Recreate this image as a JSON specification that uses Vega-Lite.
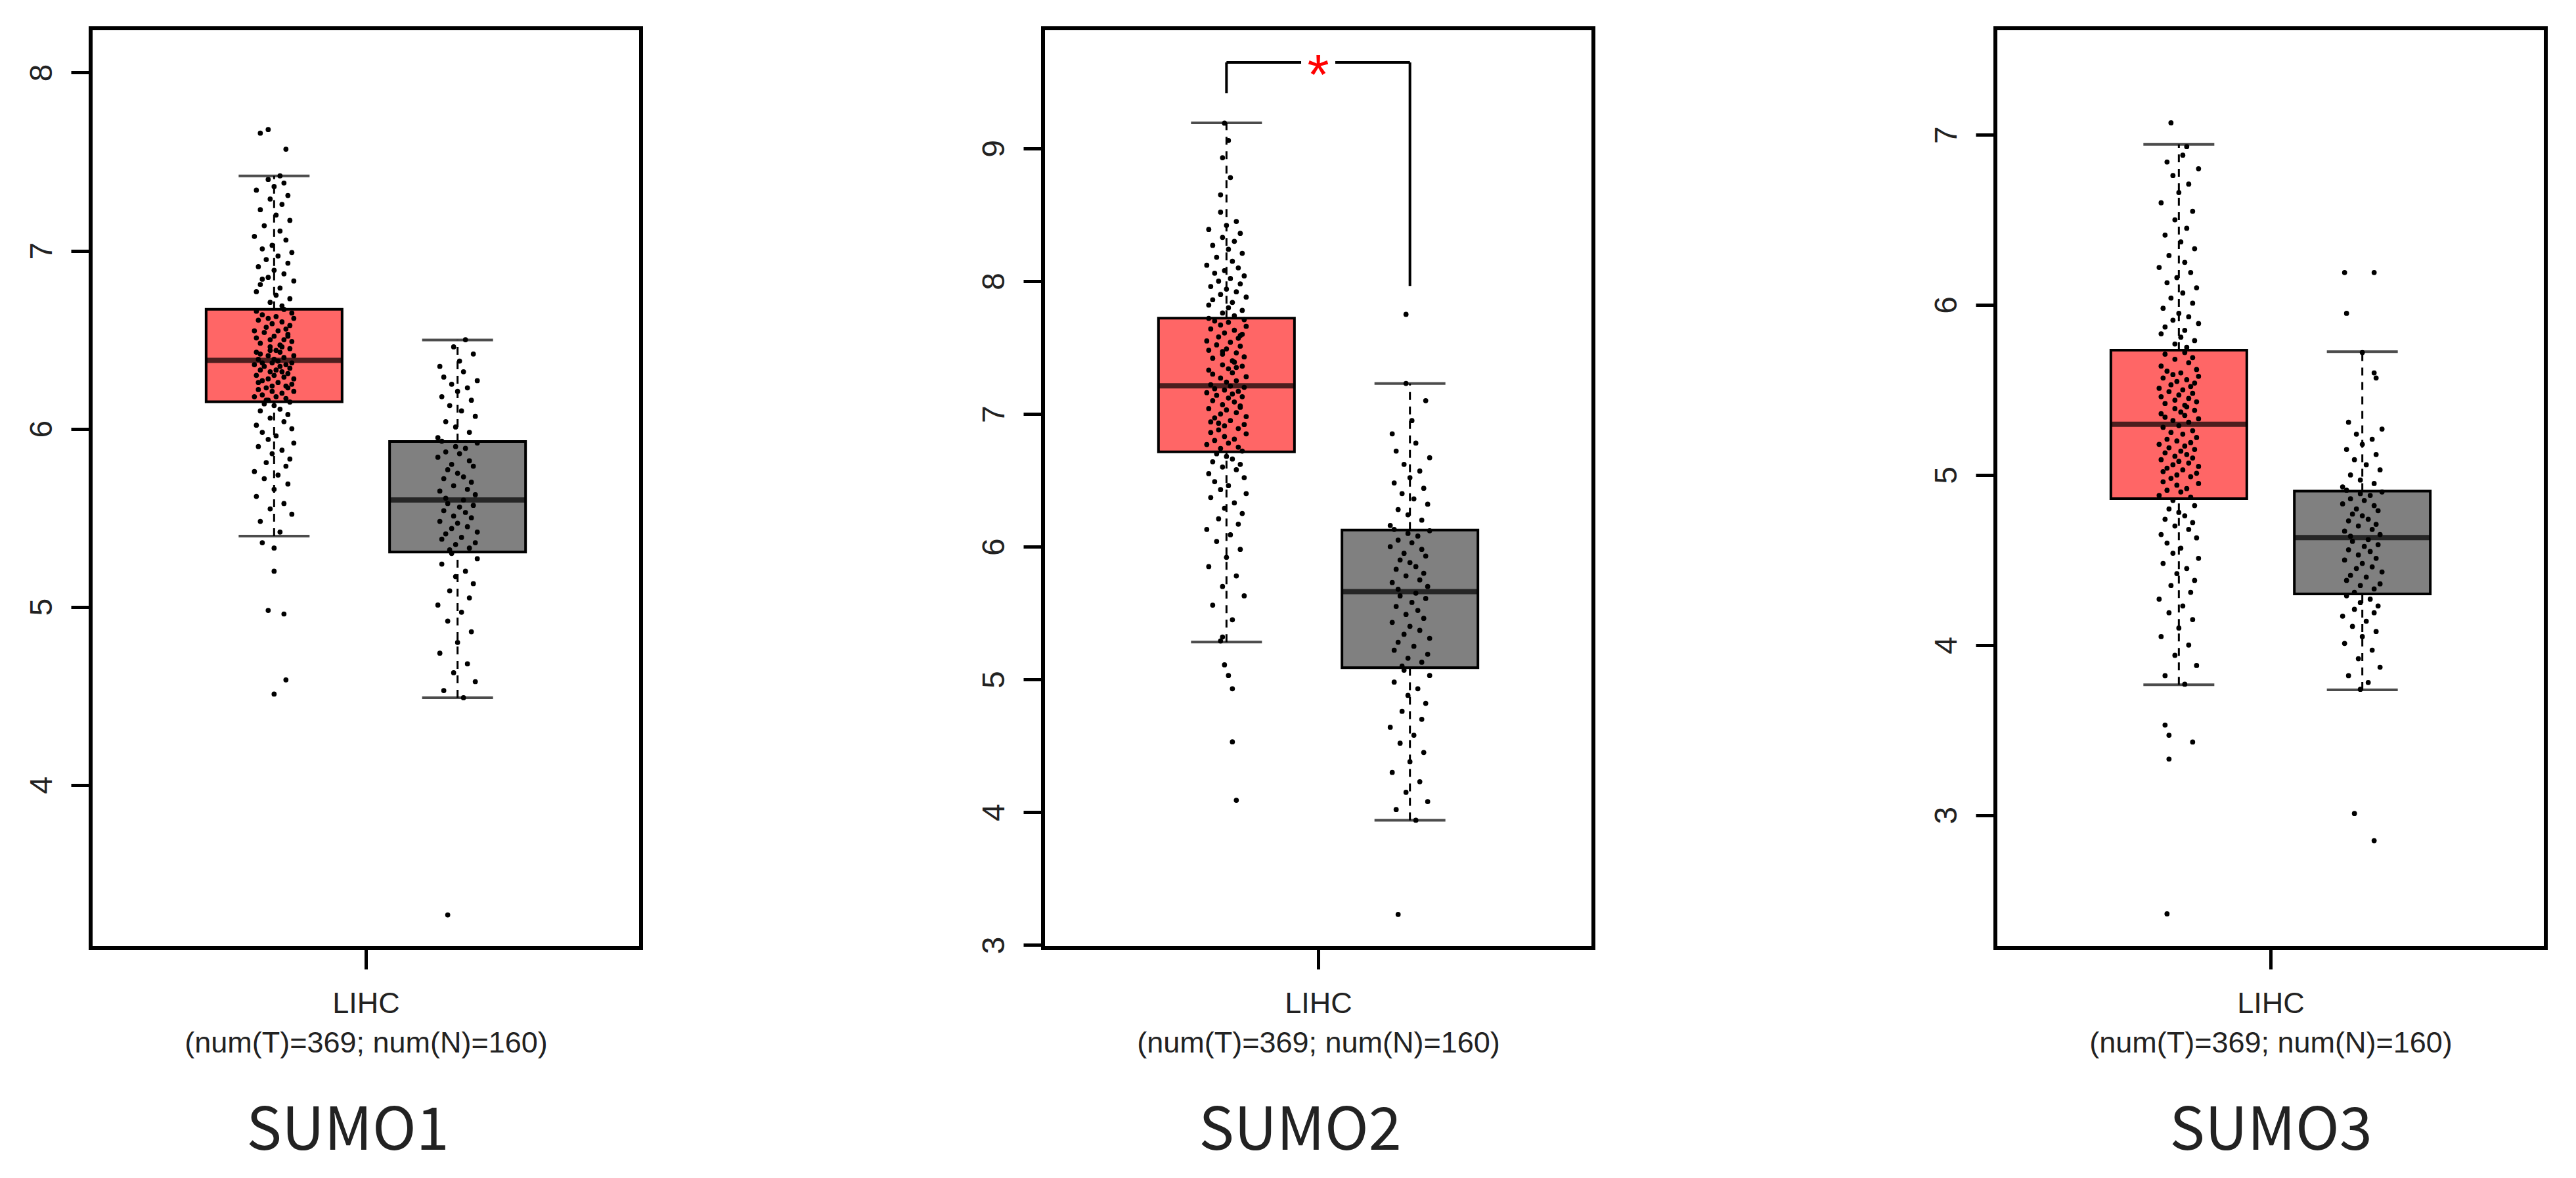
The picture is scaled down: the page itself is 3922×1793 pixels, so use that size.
{
"$schema":"https://vega.github.io/schema/vega-lite/v6.json",
"background":"white",
"padding":{"left":37,"top":40,"right":5,"bottom":5},
"bounds":"flush",
"spacing":612,
"datasets":{
"b1":[{"g":"T","lo":5.397,"q1":6.152,"med":6.384,"q3":6.671,"hi":7.42},{"g":"N","lo":4.49,"q1":5.308,"med":5.6,"q3":5.928,"hi":6.498}],
"b2":[{"g":"T","lo":5.282,"q1":6.714,"med":7.212,"q3":7.721,"hi":9.192},{"g":"N","lo":3.94,"q1":5.089,"med":5.661,"q3":6.125,"hi":7.229}],
"b3":[{"g":"T","lo":3.767,"q1":4.861,"med":5.298,"q3":5.734,"hi":6.943},{"g":"N","lo":3.737,"q1":4.301,"med":4.632,"q3":4.905,"hi":5.725}],
"br":[{"a":"T","b":"N","c":"LIHC","lo":9.415,"lo2":7.964,"top":9.648}],
"p1":[{"g":"T","v":4.51,"j":0},{"g":"T","v":4.59,"j":6},{"g":"T","v":4.96,"j":5},{"g":"T","v":4.98,"j":-3},{"g":"T","v":5.2,"j":0},{"g":"T","v":5.33,"j":0},{"g":"T","v":5.36,"j":-6},{"g":"T","v":5.42,"j":3},{"g":"T","v":5.48,"j":-7},{"g":"T","v":5.52,"j":9},{"g":"T","v":5.55,"j":-2},{"g":"T","v":5.58,"j":5},{"g":"T","v":5.62,"j":-9},{"g":"T","v":5.66,"j":0},{"g":"T","v":5.69,"j":7},{"g":"T","v":5.72,"j":-5},{"g":"T","v":5.74,"j":2},{"g":"T","v":5.76,"j":-10},{"g":"T","v":5.79,"j":6},{"g":"T","v":5.81,"j":-4},{"g":"T","v":5.83,"j":8},{"g":"T","v":5.86,"j":-1},{"g":"T","v":5.88,"j":4},{"g":"T","v":5.9,"j":-8},{"g":"T","v":5.92,"j":10},{"g":"T","v":5.94,"j":-3},{"g":"T","v":5.96,"j":1},{"g":"T","v":5.98,"j":-6},{"g":"T","v":6.0,"j":9},{"g":"T","v":6.02,"j":-9},{"g":"T","v":6.04,"j":5},{"g":"T","v":6.06,"j":-2},{"g":"T","v":6.08,"j":7},{"g":"T","v":6.1,"j":-7},{"g":"T","v":6.11,"j":3},{"g":"T","v":6.13,"j":0},{"g":"T","v":6.14,"j":-5},{"g":"T","v":6.15,"j":8},{"g":"T","v":6.16,"j":-3},{"g":"T","v":6.17,"j":6},{"g":"T","v":6.18,"j":-10},{"g":"T","v":6.18,"j":1},{"g":"T","v":6.19,"j":-6},{"g":"T","v":6.2,"j":4},{"g":"T","v":6.21,"j":-1},{"g":"T","v":6.21,"j":10},{"g":"T","v":6.22,"j":-8},{"g":"T","v":6.23,"j":-4},{"g":"T","v":6.24,"j":6},{"g":"T","v":6.24,"j":-1},{"g":"T","v":6.25,"j":9},{"g":"T","v":6.26,"j":-8},{"g":"T","v":6.26,"j":2},{"g":"T","v":6.27,"j":-6},{"g":"T","v":6.28,"j":10},{"g":"T","v":6.28,"j":-3},{"g":"T","v":6.29,"j":5},{"g":"T","v":6.3,"j":0},{"g":"T","v":6.3,"j":-9},{"g":"T","v":6.31,"j":7},{"g":"T","v":6.32,"j":-2},{"g":"T","v":6.32,"j":4},{"g":"T","v":6.33,"j":-7},{"g":"T","v":6.33,"j":1},{"g":"T","v":6.34,"j":8},{"g":"T","v":6.35,"j":-5},{"g":"T","v":6.35,"j":3},{"g":"T","v":6.36,"j":-10},{"g":"T","v":6.36,"j":6},{"g":"T","v":6.37,"j":-1},{"g":"T","v":6.37,"j":-6},{"g":"T","v":6.37,"j":9},{"g":"T","v":6.38,"j":2},{"g":"T","v":6.16,"j":-4},{"g":"T","v":6.23,"j":7},{"g":"T","v":6.39,"j":-8},{"g":"T","v":6.39,"j":0},{"g":"T","v":6.4,"j":5},{"g":"T","v":6.41,"j":-3},{"g":"T","v":6.41,"j":10},{"g":"T","v":6.42,"j":-7},{"g":"T","v":6.43,"j":3},{"g":"T","v":6.43,"j":-9},{"g":"T","v":6.44,"j":1},{"g":"T","v":6.45,"j":8},{"g":"T","v":6.46,"j":-2},{"g":"T","v":6.46,"j":4},{"g":"T","v":6.47,"j":3},{"g":"T","v":6.48,"j":-7},{"g":"T","v":6.49,"j":9},{"g":"T","v":6.5,"j":-2},{"g":"T","v":6.5,"j":5},{"g":"T","v":6.51,"j":-9},{"g":"T","v":6.52,"j":0},{"g":"T","v":6.53,"j":7},{"g":"T","v":6.54,"j":-5},{"g":"T","v":6.55,"j":2},{"g":"T","v":6.55,"j":-10},{"g":"T","v":6.56,"j":6},{"g":"T","v":6.57,"j":-4},{"g":"T","v":6.58,"j":8},{"g":"T","v":6.59,"j":-1},{"g":"T","v":6.6,"j":4},{"g":"T","v":6.61,"j":-8},{"g":"T","v":6.62,"j":10},{"g":"T","v":6.62,"j":-3},{"g":"T","v":6.63,"j":1},{"g":"T","v":6.64,"j":-6},{"g":"T","v":6.65,"j":9},{"g":"T","v":6.66,"j":-9},{"g":"T","v":6.67,"j":5},{"g":"T","v":6.44,"j":-2},{"g":"T","v":6.52,"j":7},{"g":"T","v":6.69,"j":4},{"g":"T","v":6.71,"j":-2},{"g":"T","v":6.73,"j":8},{"g":"T","v":6.75,"j":1},{"g":"T","v":6.77,"j":-9},{"g":"T","v":6.79,"j":3},{"g":"T","v":6.81,"j":-7},{"g":"T","v":6.83,"j":10},{"g":"T","v":6.85,"j":-3},{"g":"T","v":6.87,"j":5},{"g":"T","v":6.89,"j":0},{"g":"T","v":6.91,"j":-8},{"g":"T","v":6.93,"j":7},{"g":"T","v":6.95,"j":-4},{"g":"T","v":6.97,"j":2},{"g":"T","v":6.99,"j":9},{"g":"T","v":7.01,"j":-6},{"g":"T","v":7.03,"j":-1},{"g":"T","v":7.06,"j":6},{"g":"T","v":7.08,"j":-10},{"g":"T","v":7.11,"j":3},{"g":"T","v":7.14,"j":-5},{"g":"T","v":7.17,"j":8},{"g":"T","v":7.2,"j":1},{"g":"T","v":7.23,"j":-7},{"g":"T","v":7.26,"j":4},{"g":"T","v":7.29,"j":-2},{"g":"T","v":7.31,"j":7},{"g":"T","v":7.34,"j":-9},{"g":"T","v":7.36,"j":0},{"g":"T","v":7.38,"j":5},{"g":"T","v":7.4,"j":-3},{"g":"T","v":7.42,"j":3},{"g":"T","v":6.84,"j":-6},{"g":"T","v":7.57,"j":6},{"g":"T","v":7.66,"j":-7},{"g":"T","v":7.68,"j":-3},
{"g":"N","v":3.27,"j":-5},{"g":"N","v":4.49,"j":3},{"g":"N","v":4.53,"j":-7},{"g":"N","v":4.58,"j":9},{"g":"N","v":4.63,"j":-2},{"g":"N","v":4.68,"j":5},{"g":"N","v":4.74,"j":-9},{"g":"N","v":4.8,"j":0},{"g":"N","v":4.86,"j":7},{"g":"N","v":4.92,"j":-5},{"g":"N","v":4.97,"j":2},{"g":"N","v":5.01,"j":-10},{"g":"N","v":5.05,"j":6},{"g":"N","v":5.09,"j":-4},{"g":"N","v":5.13,"j":8},{"g":"N","v":5.17,"j":-1},{"g":"N","v":5.2,"j":4},{"g":"N","v":5.24,"j":-8},{"g":"N","v":5.27,"j":10},{"g":"N","v":5.3,"j":-3},{"g":"N","v":5.32,"j":-4},{"g":"N","v":5.33,"j":6},{"g":"N","v":5.35,"j":-1},{"g":"N","v":5.36,"j":9},{"g":"N","v":5.38,"j":-8},{"g":"N","v":5.39,"j":2},{"g":"N","v":5.41,"j":-6},{"g":"N","v":5.42,"j":10},{"g":"N","v":5.44,"j":-3},{"g":"N","v":5.45,"j":5},{"g":"N","v":5.47,"j":0},{"g":"N","v":5.48,"j":-9},{"g":"N","v":5.5,"j":7},{"g":"N","v":5.51,"j":-2},{"g":"N","v":5.53,"j":4},{"g":"N","v":5.54,"j":-7},{"g":"N","v":5.56,"j":1},{"g":"N","v":5.57,"j":8},{"g":"N","v":5.58,"j":-5},{"g":"N","v":5.6,"j":3},{"g":"N","v":5.61,"j":-6},{"g":"N","v":5.63,"j":9},{"g":"N","v":5.65,"j":-9},{"g":"N","v":5.66,"j":5},{"g":"N","v":5.68,"j":-2},{"g":"N","v":5.7,"j":7},{"g":"N","v":5.72,"j":-7},{"g":"N","v":5.73,"j":3},{"g":"N","v":5.75,"j":0},{"g":"N","v":5.77,"j":-5},{"g":"N","v":5.79,"j":8},{"g":"N","v":5.8,"j":-3},{"g":"N","v":5.82,"j":6},{"g":"N","v":5.84,"j":-10},{"g":"N","v":5.86,"j":1},{"g":"N","v":5.87,"j":-6},{"g":"N","v":5.89,"j":4},{"g":"N","v":5.9,"j":-1},{"g":"N","v":5.92,"j":10},{"g":"N","v":5.93,"j":-8},{"g":"N","v":5.95,"j":-10},{"g":"N","v":5.98,"j":6},{"g":"N","v":6.01,"j":-1},{"g":"N","v":6.04,"j":-6},{"g":"N","v":6.07,"j":9},{"g":"N","v":6.1,"j":2},{"g":"N","v":6.13,"j":-4},{"g":"N","v":6.16,"j":7},{"g":"N","v":6.18,"j":-8},{"g":"N","v":6.21,"j":0},{"g":"N","v":6.23,"j":5},{"g":"N","v":6.25,"j":-3},{"g":"N","v":6.27,"j":10},{"g":"N","v":6.29,"j":-7},{"g":"N","v":6.32,"j":3},{"g":"N","v":6.35,"j":-9},{"g":"N","v":6.38,"j":1},{"g":"N","v":6.42,"j":8},{"g":"N","v":6.46,"j":-2},{"g":"N","v":6.5,"j":4}],
"p2":[{"g":"T","v":4.09,"j":5},{"g":"T","v":4.53,"j":3},{"g":"T","v":4.93,"j":3},{"g":"T","v":5.03,"j":1},{"g":"T","v":5.11,"j":-1},{"g":"T","v":5.29,"j":-3},{"g":"T","v":5.32,"j":-2},{"g":"T","v":5.45,"j":3},{"g":"T","v":5.56,"j":-7},{"g":"T","v":5.63,"j":9},{"g":"T","v":5.7,"j":-2},{"g":"T","v":5.78,"j":5},{"g":"T","v":5.85,"j":-9},{"g":"T","v":5.92,"j":0},{"g":"T","v":5.98,"j":7},{"g":"T","v":6.04,"j":-5},{"g":"T","v":6.09,"j":2},{"g":"T","v":6.13,"j":-10},{"g":"T","v":6.17,"j":6},{"g":"T","v":6.21,"j":-4},{"g":"T","v":6.25,"j":8},{"g":"T","v":6.29,"j":-1},{"g":"T","v":6.33,"j":4},{"g":"T","v":6.37,"j":-8},{"g":"T","v":6.4,"j":10},{"g":"T","v":6.43,"j":-3},{"g":"T","v":6.46,"j":1},{"g":"T","v":6.49,"j":-6},{"g":"T","v":6.52,"j":9},{"g":"T","v":6.55,"j":-9},{"g":"T","v":6.58,"j":5},{"g":"T","v":6.6,"j":-2},{"g":"T","v":6.62,"j":7},{"g":"T","v":6.64,"j":-7},{"g":"T","v":6.66,"j":3},{"g":"T","v":6.68,"j":0},{"g":"T","v":6.7,"j":-5},{"g":"T","v":6.72,"j":8},{"g":"T","v":6.74,"j":-3},{"g":"T","v":6.75,"j":6},{"g":"T","v":6.77,"j":-10},{"g":"T","v":6.78,"j":1},{"g":"T","v":6.8,"j":-6},{"g":"T","v":6.81,"j":4},{"g":"T","v":6.83,"j":-1},{"g":"T","v":6.85,"j":10},{"g":"T","v":6.86,"j":-8},{"g":"T","v":6.88,"j":-4},{"g":"T","v":6.89,"j":6},{"g":"T","v":6.91,"j":-1},{"g":"T","v":6.92,"j":9},{"g":"T","v":6.94,"j":-8},{"g":"T","v":6.95,"j":2},{"g":"T","v":6.97,"j":-6},{"g":"T","v":6.98,"j":10},{"g":"T","v":7.0,"j":-3},{"g":"T","v":7.01,"j":5},{"g":"T","v":7.03,"j":0},{"g":"T","v":7.04,"j":-9},{"g":"T","v":7.06,"j":7},{"g":"T","v":7.07,"j":-2},{"g":"T","v":7.09,"j":4},{"g":"T","v":7.1,"j":-7},{"g":"T","v":7.12,"j":1},{"g":"T","v":7.13,"j":8},{"g":"T","v":7.14,"j":-5},{"g":"T","v":7.15,"j":3},{"g":"T","v":7.16,"j":-10},{"g":"T","v":7.17,"j":6},{"g":"T","v":7.18,"j":-1},{"g":"T","v":7.19,"j":-6},{"g":"T","v":7.2,"j":9},{"g":"T","v":7.21,"j":2},{"g":"T","v":6.93,"j":-4},{"g":"T","v":7.05,"j":7},{"g":"T","v":7.22,"j":-8},{"g":"T","v":7.24,"j":0},{"g":"T","v":7.25,"j":5},{"g":"T","v":7.27,"j":-3},{"g":"T","v":7.28,"j":10},{"g":"T","v":7.3,"j":-7},{"g":"T","v":7.31,"j":3},{"g":"T","v":7.33,"j":-9},{"g":"T","v":7.34,"j":1},{"g":"T","v":7.36,"j":8},{"g":"T","v":7.37,"j":-2},{"g":"T","v":7.39,"j":4},{"g":"T","v":7.4,"j":3},{"g":"T","v":7.42,"j":-7},{"g":"T","v":7.43,"j":9},{"g":"T","v":7.45,"j":-2},{"g":"T","v":7.46,"j":5},{"g":"T","v":7.48,"j":-9},{"g":"T","v":7.49,"j":0},{"g":"T","v":7.51,"j":7},{"g":"T","v":7.52,"j":-5},{"g":"T","v":7.54,"j":2},{"g":"T","v":7.55,"j":-10},{"g":"T","v":7.57,"j":6},{"g":"T","v":7.58,"j":-4},{"g":"T","v":7.6,"j":8},{"g":"T","v":7.61,"j":-1},{"g":"T","v":7.63,"j":4},{"g":"T","v":7.64,"j":-8},{"g":"T","v":7.66,"j":10},{"g":"T","v":7.67,"j":-3},{"g":"T","v":7.69,"j":1},{"g":"T","v":7.7,"j":-6},{"g":"T","v":7.71,"j":9},{"g":"T","v":7.72,"j":-9},{"g":"T","v":7.35,"j":5},{"g":"T","v":7.47,"j":-2},{"g":"T","v":7.59,"j":7},{"g":"T","v":7.74,"j":4},{"g":"T","v":7.76,"j":-2},{"g":"T","v":7.78,"j":8},{"g":"T","v":7.8,"j":1},{"g":"T","v":7.82,"j":-9},{"g":"T","v":7.84,"j":3},{"g":"T","v":7.86,"j":-7},{"g":"T","v":7.88,"j":10},{"g":"T","v":7.9,"j":-3},{"g":"T","v":7.92,"j":5},{"g":"T","v":7.94,"j":0},{"g":"T","v":7.96,"j":-8},{"g":"T","v":7.98,"j":7},{"g":"T","v":8.0,"j":-4},{"g":"T","v":8.02,"j":2},{"g":"T","v":8.04,"j":9},{"g":"T","v":8.06,"j":-6},{"g":"T","v":8.08,"j":-1},{"g":"T","v":8.1,"j":6},{"g":"T","v":8.12,"j":-10},{"g":"T","v":8.15,"j":3},{"g":"T","v":8.18,"j":-5},{"g":"T","v":8.21,"j":8},{"g":"T","v":8.24,"j":1},{"g":"T","v":8.27,"j":-7},{"g":"T","v":8.3,"j":4},{"g":"T","v":8.33,"j":-2},{"g":"T","v":8.36,"j":7},{"g":"T","v":8.39,"j":-9},{"g":"T","v":8.42,"j":0},{"g":"T","v":8.45,"j":5},{"g":"T","v":8.52,"j":-3},{"g":"T","v":8.65,"j":-3},{"g":"T","v":8.78,"j":2},{"g":"T","v":8.93,"j":-2},{"g":"T","v":9.06,"j":1},{"g":"T","v":9.19,"j":-1},
{"g":"N","v":3.23,"j":-6},{"g":"N","v":3.94,"j":3},{"g":"N","v":4.02,"j":-7},{"g":"N","v":4.08,"j":9},{"g":"N","v":4.15,"j":-2},{"g":"N","v":4.23,"j":5},{"g":"N","v":4.3,"j":-9},{"g":"N","v":4.38,"j":0},{"g":"N","v":4.45,"j":7},{"g":"N","v":4.52,"j":-5},{"g":"N","v":4.58,"j":2},{"g":"N","v":4.64,"j":-10},{"g":"N","v":4.7,"j":6},{"g":"N","v":4.76,"j":-4},{"g":"N","v":4.82,"j":8},{"g":"N","v":4.88,"j":-1},{"g":"N","v":4.93,"j":4},{"g":"N","v":4.98,"j":-8},{"g":"N","v":5.03,"j":10},{"g":"N","v":5.07,"j":-3},{"g":"N","v":5.1,"j":-4},{"g":"N","v":5.13,"j":6},{"g":"N","v":5.16,"j":-1},{"g":"N","v":5.19,"j":9},{"g":"N","v":5.22,"j":-8},{"g":"N","v":5.25,"j":2},{"g":"N","v":5.28,"j":-6},{"g":"N","v":5.31,"j":10},{"g":"N","v":5.34,"j":-3},{"g":"N","v":5.37,"j":5},{"g":"N","v":5.4,"j":0},{"g":"N","v":5.43,"j":-9},{"g":"N","v":5.46,"j":7},{"g":"N","v":5.49,"j":-2},{"g":"N","v":5.52,"j":4},{"g":"N","v":5.55,"j":-7},{"g":"N","v":5.58,"j":1},{"g":"N","v":5.61,"j":8},{"g":"N","v":5.63,"j":-5},{"g":"N","v":5.65,"j":3},{"g":"N","v":5.68,"j":-6},{"g":"N","v":5.7,"j":9},{"g":"N","v":5.73,"j":-9},{"g":"N","v":5.75,"j":5},{"g":"N","v":5.78,"j":-2},{"g":"N","v":5.8,"j":7},{"g":"N","v":5.83,"j":-7},{"g":"N","v":5.85,"j":3},{"g":"N","v":5.88,"j":0},{"g":"N","v":5.9,"j":-5},{"g":"N","v":5.93,"j":8},{"g":"N","v":5.95,"j":-3},{"g":"N","v":5.98,"j":6},{"g":"N","v":6.0,"j":-10},{"g":"N","v":6.03,"j":1},{"g":"N","v":6.05,"j":-6},{"g":"N","v":6.08,"j":4},{"g":"N","v":6.1,"j":-1},{"g":"N","v":6.12,"j":10},{"g":"N","v":6.13,"j":-8},{"g":"N","v":6.16,"j":-10},{"g":"N","v":6.2,"j":6},{"g":"N","v":6.24,"j":-1},{"g":"N","v":6.28,"j":-6},{"g":"N","v":6.32,"j":9},{"g":"N","v":6.36,"j":2},{"g":"N","v":6.4,"j":-4},{"g":"N","v":6.44,"j":7},{"g":"N","v":6.48,"j":-8},{"g":"N","v":6.52,"j":0},{"g":"N","v":6.57,"j":5},{"g":"N","v":6.62,"j":-3},{"g":"N","v":6.67,"j":10},{"g":"N","v":6.72,"j":-7},{"g":"N","v":6.78,"j":3},{"g":"N","v":6.85,"j":-9},{"g":"N","v":6.95,"j":1},{"g":"N","v":7.1,"j":8},{"g":"N","v":7.23,"j":-2},{"g":"N","v":7.75,"j":-2}],
"p3":[{"g":"T","v":2.42,"j":-6},{"g":"T","v":3.33,"j":-5},{"g":"T","v":3.43,"j":7},{"g":"T","v":3.47,"j":-5},{"g":"T","v":3.53,"j":-7},{"g":"T","v":3.77,"j":3},{"g":"T","v":3.82,"j":-7},{"g":"T","v":3.88,"j":9},{"g":"T","v":3.94,"j":-2},{"g":"T","v":4.0,"j":5},{"g":"T","v":4.05,"j":-9},{"g":"T","v":4.1,"j":0},{"g":"T","v":4.15,"j":7},{"g":"T","v":4.19,"j":-5},{"g":"T","v":4.23,"j":2},{"g":"T","v":4.27,"j":-10},{"g":"T","v":4.31,"j":6},{"g":"T","v":4.35,"j":-4},{"g":"T","v":4.38,"j":8},{"g":"T","v":4.42,"j":-1},{"g":"T","v":4.45,"j":4},{"g":"T","v":4.48,"j":-8},{"g":"T","v":4.51,"j":10},{"g":"T","v":4.54,"j":-3},{"g":"T","v":4.57,"j":1},{"g":"T","v":4.6,"j":-6},{"g":"T","v":4.63,"j":9},{"g":"T","v":4.65,"j":-9},{"g":"T","v":4.68,"j":5},{"g":"T","v":4.7,"j":-2},{"g":"T","v":4.72,"j":7},{"g":"T","v":4.74,"j":-7},{"g":"T","v":4.76,"j":3},{"g":"T","v":4.78,"j":0},{"g":"T","v":4.8,"j":-5},{"g":"T","v":4.82,"j":8},{"g":"T","v":4.85,"j":-3},{"g":"T","v":4.87,"j":6},{"g":"T","v":4.88,"j":-10},{"g":"T","v":4.9,"j":1},{"g":"T","v":4.91,"j":-6},{"g":"T","v":4.92,"j":4},{"g":"T","v":4.94,"j":-1},{"g":"T","v":4.95,"j":10},{"g":"T","v":4.96,"j":-8},{"g":"T","v":4.98,"j":-4},{"g":"T","v":4.99,"j":6},{"g":"T","v":5.0,"j":-1},{"g":"T","v":5.01,"j":9},{"g":"T","v":5.02,"j":-8},{"g":"T","v":5.03,"j":2},{"g":"T","v":5.04,"j":-6},{"g":"T","v":5.05,"j":10},{"g":"T","v":5.06,"j":-3},{"g":"T","v":5.07,"j":5},{"g":"T","v":5.08,"j":0},{"g":"T","v":5.09,"j":-9},{"g":"T","v":5.1,"j":7},{"g":"T","v":5.11,"j":-2},{"g":"T","v":5.12,"j":4},{"g":"T","v":5.13,"j":-7},{"g":"T","v":5.14,"j":1},{"g":"T","v":5.15,"j":8},{"g":"T","v":5.16,"j":-5},{"g":"T","v":5.17,"j":3},{"g":"T","v":5.18,"j":-10},{"g":"T","v":5.19,"j":6},{"g":"T","v":5.2,"j":-1},{"g":"T","v":5.21,"j":-6},{"g":"T","v":5.22,"j":9},{"g":"T","v":5.24,"j":2},{"g":"T","v":5.25,"j":-4},{"g":"T","v":5.26,"j":7},{"g":"T","v":5.28,"j":-8},{"g":"T","v":5.29,"j":0},{"g":"T","v":5.31,"j":5},{"g":"T","v":5.32,"j":-3},{"g":"T","v":5.33,"j":10},{"g":"T","v":5.34,"j":-7},{"g":"T","v":5.35,"j":3},{"g":"T","v":5.36,"j":-9},{"g":"T","v":5.37,"j":1},{"g":"T","v":5.38,"j":8},{"g":"T","v":5.39,"j":-2},{"g":"T","v":5.4,"j":4},{"g":"T","v":5.41,"j":3},{"g":"T","v":5.42,"j":-7},{"g":"T","v":5.43,"j":9},{"g":"T","v":5.44,"j":-2},{"g":"T","v":5.45,"j":5},{"g":"T","v":5.46,"j":-9},{"g":"T","v":5.47,"j":0},{"g":"T","v":5.48,"j":7},{"g":"T","v":5.49,"j":-5},{"g":"T","v":5.5,"j":2},{"g":"T","v":5.51,"j":-10},{"g":"T","v":5.52,"j":6},{"g":"T","v":5.53,"j":-4},{"g":"T","v":5.54,"j":8},{"g":"T","v":5.55,"j":-1},{"g":"T","v":5.56,"j":4},{"g":"T","v":5.57,"j":-8},{"g":"T","v":5.58,"j":10},{"g":"T","v":5.59,"j":-3},{"g":"T","v":5.6,"j":1},{"g":"T","v":5.61,"j":-6},{"g":"T","v":5.62,"j":9},{"g":"T","v":5.64,"j":-9},{"g":"T","v":5.66,"j":5},{"g":"T","v":5.68,"j":-2},{"g":"T","v":5.69,"j":7},{"g":"T","v":5.71,"j":-7},{"g":"T","v":5.72,"j":3},{"g":"T","v":5.75,"j":4},{"g":"T","v":5.77,"j":-2},{"g":"T","v":5.79,"j":8},{"g":"T","v":5.81,"j":1},{"g":"T","v":5.83,"j":-9},{"g":"T","v":5.85,"j":3},{"g":"T","v":5.87,"j":-7},{"g":"T","v":5.89,"j":10},{"g":"T","v":5.91,"j":-3},{"g":"T","v":5.93,"j":5},{"g":"T","v":5.95,"j":0},{"g":"T","v":5.98,"j":-8},{"g":"T","v":6.01,"j":7},{"g":"T","v":6.04,"j":-4},{"g":"T","v":6.07,"j":2},{"g":"T","v":6.1,"j":9},{"g":"T","v":6.13,"j":-6},{"g":"T","v":6.16,"j":-1},{"g":"T","v":6.19,"j":6},{"g":"T","v":6.22,"j":-10},{"g":"T","v":6.25,"j":3},{"g":"T","v":6.29,"j":-5},{"g":"T","v":6.33,"j":8},{"g":"T","v":6.37,"j":1},{"g":"T","v":6.41,"j":-7},{"g":"T","v":6.45,"j":4},{"g":"T","v":6.5,"j":-2},{"g":"T","v":6.55,"j":7},{"g":"T","v":6.6,"j":-9},{"g":"T","v":6.66,"j":0},{"g":"T","v":6.71,"j":5},{"g":"T","v":6.76,"j":-3},{"g":"T","v":6.8,"j":10},{"g":"T","v":6.84,"j":-6},{"g":"T","v":6.88,"j":2},{"g":"T","v":6.93,"j":4},{"g":"T","v":7.07,"j":-4},
{"g":"N","v":2.85,"j":6},{"g":"N","v":3.01,"j":-4},{"g":"N","v":3.74,"j":-1},{"g":"N","v":3.78,"j":3},{"g":"N","v":3.82,"j":-7},{"g":"N","v":3.87,"j":9},{"g":"N","v":3.92,"j":-2},{"g":"N","v":3.97,"j":5},{"g":"N","v":4.01,"j":-9},{"g":"N","v":4.05,"j":0},{"g":"N","v":4.08,"j":7},{"g":"N","v":4.11,"j":-5},{"g":"N","v":4.14,"j":2},{"g":"N","v":4.17,"j":-10},{"g":"N","v":4.19,"j":6},{"g":"N","v":4.21,"j":-4},{"g":"N","v":4.23,"j":8},{"g":"N","v":4.25,"j":-1},{"g":"N","v":4.27,"j":4},{"g":"N","v":4.29,"j":-8},{"g":"N","v":4.31,"j":-4},{"g":"N","v":4.33,"j":6},{"g":"N","v":4.35,"j":-1},{"g":"N","v":4.36,"j":9},{"g":"N","v":4.38,"j":-8},{"g":"N","v":4.4,"j":2},{"g":"N","v":4.41,"j":-6},{"g":"N","v":4.43,"j":10},{"g":"N","v":4.45,"j":-3},{"g":"N","v":4.46,"j":5},{"g":"N","v":4.48,"j":0},{"g":"N","v":4.5,"j":-9},{"g":"N","v":4.51,"j":7},{"g":"N","v":4.53,"j":-2},{"g":"N","v":4.55,"j":4},{"g":"N","v":4.56,"j":-7},{"g":"N","v":4.58,"j":1},{"g":"N","v":4.59,"j":8},{"g":"N","v":4.61,"j":-5},{"g":"N","v":4.62,"j":3},{"g":"N","v":4.64,"j":-6},{"g":"N","v":4.65,"j":9},{"g":"N","v":4.67,"j":-9},{"g":"N","v":4.68,"j":5},{"g":"N","v":4.7,"j":-2},{"g":"N","v":4.71,"j":7},{"g":"N","v":4.73,"j":-7},{"g":"N","v":4.74,"j":3},{"g":"N","v":4.76,"j":0},{"g":"N","v":4.77,"j":-5},{"g":"N","v":4.79,"j":8},{"g":"N","v":4.8,"j":-3},{"g":"N","v":4.82,"j":6},{"g":"N","v":4.83,"j":-10},{"g":"N","v":4.85,"j":1},{"g":"N","v":4.86,"j":-6},{"g":"N","v":4.88,"j":4},{"g":"N","v":4.89,"j":-1},{"g":"N","v":4.9,"j":10},{"g":"N","v":4.91,"j":-8},{"g":"N","v":4.93,"j":-10},{"g":"N","v":4.95,"j":6},{"g":"N","v":4.97,"j":-1},{"g":"N","v":5.0,"j":-6},{"g":"N","v":5.03,"j":9},{"g":"N","v":5.06,"j":2},{"g":"N","v":5.09,"j":-4},{"g":"N","v":5.12,"j":7},{"g":"N","v":5.15,"j":-8},{"g":"N","v":5.18,"j":0},{"g":"N","v":5.21,"j":5},{"g":"N","v":5.24,"j":-3},{"g":"N","v":5.27,"j":10},{"g":"N","v":5.31,"j":-7},{"g":"N","v":5.57,"j":7},{"g":"N","v":5.6,"j":6},{"g":"N","v":5.72,"j":0},{"g":"N","v":5.95,"j":-8},{"g":"N","v":6.19,"j":-9},{"g":"N","v":6.19,"j":6}]
},
"hconcat":[
{"width":838,"height":1400,"resolve":{"scale":{"x":"independent"}},
"layer":[
{"layer":[
{"data":{"name":"b1"},"mark":{"type":"rule","strokeDash":[12,10],"strokeWidth":3,"color":"black"},"encoding":{"x":{"field":"g","type":"nominal","scale":{"type":"point","domain":["T","N"],"padding":1.123},"axis":null},"y":{"field":"lo","type":"quantitative","scale":{"domain":[3.084,8.249],"nice":false,"zero":false},"axis":{"values":[4,5,6,7,8],"format":"d","title":null}},"y2":{"field":"q1"}}},
{"data":{"name":"b1"},"mark":{"type":"rule","strokeDash":[12,10],"strokeWidth":3,"color":"black"},"encoding":{"x":{"field":"g","type":"nominal"},"y":{"field":"q3","type":"quantitative"},"y2":{"field":"hi"}}},
{"data":{"name":"b1"},"mark":{"type":"tick","size":108,"thickness":4,"color":"black"},"encoding":{"x":{"field":"g","type":"nominal"},"y":{"field":"lo","type":"quantitative"}}},
{"data":{"name":"b1"},"mark":{"type":"tick","size":108,"thickness":4,"color":"black"},"encoding":{"x":{"field":"g","type":"nominal"},"y":{"field":"hi","type":"quantitative"}}},
{"data":{"name":"b1"},"mark":{"type":"bar","size":207,"stroke":"black","strokeWidth":4},"encoding":{"x":{"field":"g","type":"nominal"},"y":{"field":"q1","type":"quantitative"},"y2":{"field":"q3"},"fill":{"field":"g","type":"nominal","scale":{"domain":["T","N"],"range":["#FF6666","#808080"]},"legend":null}}},
{"data":{"name":"b1"},"mark":{"type":"tick","size":207,"thickness":8,"color":"black"},"encoding":{"x":{"field":"g","type":"nominal"},"y":{"field":"med","type":"quantitative"}}},
{"data":{"name":"p1"},"mark":{"type":"circle","size":60,"color":"black","opacity":1},"encoding":{"x":{"field":"g","type":"nominal"},"xOffset":{"field":"j","type":"quantitative","scale":{"domain":[-10,10],"range":[-30,30]}},"y":{"field":"v","type":"quantitative"}}}
]},
{"data":{"values":[{"c":"LIHC"}]},"mark":{"type":"point","opacity":0},"encoding":{"x":{"field":"c","type":"nominal","scale":{"type":"point","padding":0.5},"axis":{"orient":"bottom","domain":false,"grid":false,"ticks":true,"tickSize":32,"tickWidth":5,"tickColor":"black","labelAngle":0,"labelLimit":0,"labelExpr":"['LIHC','(num(T)=369; num(N)=160)']","labelFont":"Liberation Sans","labelFontSize":45,"labelColor":"#222","labelLineHeight":60,"labelPadding":30,"title":"SUMO1","titleFont":"Noto Sans CJK SC","titleFontSize":90,"titleFontWeight":"normal","titleColor":"#222","titlePadding":68,"titleX":391}}}}
]},
{"width":838,"height":1400,"resolve":{"scale":{"x":"independent"}},
"layer":[
{"layer":[
{"data":{"name":"b2"},"mark":{"type":"rule","strokeDash":[12,10],"strokeWidth":3,"color":"black"},"encoding":{"x":{"field":"g","type":"nominal","scale":{"type":"point","domain":["T","N"],"padding":1.123},"axis":null},"y":{"field":"lo","type":"quantitative","scale":{"domain":[2.977,9.905],"nice":false,"zero":false},"axis":{"values":[3,4,5,6,7,8,9],"format":"d","title":null}},"y2":{"field":"q1"}}},
{"data":{"name":"b2"},"mark":{"type":"rule","strokeDash":[12,10],"strokeWidth":3,"color":"black"},"encoding":{"x":{"field":"g","type":"nominal"},"y":{"field":"q3","type":"quantitative"},"y2":{"field":"hi"}}},
{"data":{"name":"b2"},"mark":{"type":"tick","size":108,"thickness":4,"color":"black"},"encoding":{"x":{"field":"g","type":"nominal"},"y":{"field":"lo","type":"quantitative"}}},
{"data":{"name":"b2"},"mark":{"type":"tick","size":108,"thickness":4,"color":"black"},"encoding":{"x":{"field":"g","type":"nominal"},"y":{"field":"hi","type":"quantitative"}}},
{"data":{"name":"b2"},"mark":{"type":"bar","size":207,"stroke":"black","strokeWidth":4},"encoding":{"x":{"field":"g","type":"nominal"},"y":{"field":"q1","type":"quantitative"},"y2":{"field":"q3"},"fill":{"field":"g","type":"nominal","scale":{"domain":["T","N"],"range":["#FF6666","#808080"]},"legend":null}}},
{"data":{"name":"b2"},"mark":{"type":"tick","size":207,"thickness":8,"color":"black"},"encoding":{"x":{"field":"g","type":"nominal"},"y":{"field":"med","type":"quantitative"}}},
{"data":{"name":"p2"},"mark":{"type":"circle","size":60,"color":"black","opacity":1},"encoding":{"x":{"field":"g","type":"nominal"},"xOffset":{"field":"j","type":"quantitative","scale":{"domain":[-10,10],"range":[-30,30]}},"y":{"field":"v","type":"quantitative"}}},
{"data":{"name":"br"},"mark":{"type":"rule","strokeWidth":4,"color":"black"},"encoding":{"x":{"field":"a","type":"nominal"},"x2":{"field":"b"},"y":{"field":"top","type":"quantitative"}}},
{"data":{"name":"br"},"mark":{"type":"rule","strokeWidth":4,"color":"black"},"encoding":{"x":{"field":"a","type":"nominal"},"y":{"field":"lo","type":"quantitative"},"y2":{"field":"top"}}},
{"data":{"name":"br"},"mark":{"type":"rule","strokeWidth":4,"color":"black"},"encoding":{"x":{"field":"b","type":"nominal"},"y":{"field":"lo2","type":"quantitative"},"y2":{"field":"top"}}}
]},
{"layer":[
{"data":{"values":[{"c":"LIHC"}]},"mark":{"type":"point","opacity":0},"encoding":{"x":{"field":"c","type":"nominal","scale":{"type":"point","padding":0.5},"axis":{"orient":"bottom","domain":false,"grid":false,"ticks":true,"tickSize":32,"tickWidth":5,"tickColor":"black","labelAngle":0,"labelLimit":0,"labelExpr":"['LIHC','(num(T)=369; num(N)=160)']","labelFont":"Liberation Sans","labelFontSize":45,"labelColor":"#222","labelLineHeight":60,"labelPadding":30,"title":"SUMO2","titleFont":"Noto Sans CJK SC","titleFontSize":90,"titleFontWeight":"normal","titleColor":"#222","titlePadding":68,"titleX":391}}}},
{"data":{"name":"br"},"mark":{"type":"square","size":2700,"color":"white","opacity":1},"encoding":{"x":{"field":"c","type":"nominal"},"y":{"field":"top","type":"quantitative"}}},
{"data":{"name":"br"},"mark":{"type":"text","text":"*","color":"#FF0000","font":"Liberation Sans","fontSize":85,"baseline":"alphabetic","dy":48},"encoding":{"x":{"field":"c","type":"nominal"},"y":{"field":"top","type":"quantitative"}}}
]}
]},
{"width":838,"height":1400,"resolve":{"scale":{"x":"independent"}},
"layer":[
{"layer":[
{"data":{"name":"b3"},"mark":{"type":"rule","strokeDash":[12,10],"strokeWidth":3,"color":"black"},"encoding":{"x":{"field":"g","type":"nominal","scale":{"type":"point","domain":["T","N"],"padding":1.123},"axis":null},"y":{"field":"lo","type":"quantitative","scale":{"domain":[2.219,7.626],"nice":false,"zero":false},"axis":{"values":[3,4,5,6,7],"format":"d","title":null}},"y2":{"field":"q1"}}},
{"data":{"name":"b3"},"mark":{"type":"rule","strokeDash":[12,10],"strokeWidth":3,"color":"black"},"encoding":{"x":{"field":"g","type":"nominal"},"y":{"field":"q3","type":"quantitative"},"y2":{"field":"hi"}}},
{"data":{"name":"b3"},"mark":{"type":"tick","size":108,"thickness":4,"color":"black"},"encoding":{"x":{"field":"g","type":"nominal"},"y":{"field":"lo","type":"quantitative"}}},
{"data":{"name":"b3"},"mark":{"type":"tick","size":108,"thickness":4,"color":"black"},"encoding":{"x":{"field":"g","type":"nominal"},"y":{"field":"hi","type":"quantitative"}}},
{"data":{"name":"b3"},"mark":{"type":"bar","size":207,"stroke":"black","strokeWidth":4},"encoding":{"x":{"field":"g","type":"nominal"},"y":{"field":"q1","type":"quantitative"},"y2":{"field":"q3"},"fill":{"field":"g","type":"nominal","scale":{"domain":["T","N"],"range":["#FF6666","#808080"]},"legend":null}}},
{"data":{"name":"b3"},"mark":{"type":"tick","size":207,"thickness":8,"color":"black"},"encoding":{"x":{"field":"g","type":"nominal"},"y":{"field":"med","type":"quantitative"}}},
{"data":{"name":"p3"},"mark":{"type":"circle","size":60,"color":"black","opacity":1},"encoding":{"x":{"field":"g","type":"nominal"},"xOffset":{"field":"j","type":"quantitative","scale":{"domain":[-10,10],"range":[-30,30]}},"y":{"field":"v","type":"quantitative"}}}
]},
{"data":{"values":[{"c":"LIHC"}]},"mark":{"type":"point","opacity":0},"encoding":{"x":{"field":"c","type":"nominal","scale":{"type":"point","padding":0.5},"axis":{"orient":"bottom","domain":false,"grid":false,"ticks":true,"tickSize":32,"tickWidth":5,"tickColor":"black","labelAngle":0,"labelLimit":0,"labelExpr":"['LIHC','(num(T)=369; num(N)=160)']","labelFont":"Liberation Sans","labelFontSize":45,"labelColor":"#222","labelLineHeight":60,"labelPadding":30,"title":"SUMO3","titleFont":"Noto Sans CJK SC","titleFontSize":90,"titleFontWeight":"normal","titleColor":"#222","titlePadding":68}}}}
]}
],
"config":{
"view":{"stroke":"black","strokeWidth":6},
"axis":{"grid":false,"domain":false,"tickColor":"black","tickWidth":5,"tickSize":30,"labelFont":"Liberation Sans","labelFontSize":48,"labelColor":"#222"},
"axisY":{"labelAngle":270,"labelAlign":"center","labelBaseline":"bottom","labelPadding":20}
}
}
